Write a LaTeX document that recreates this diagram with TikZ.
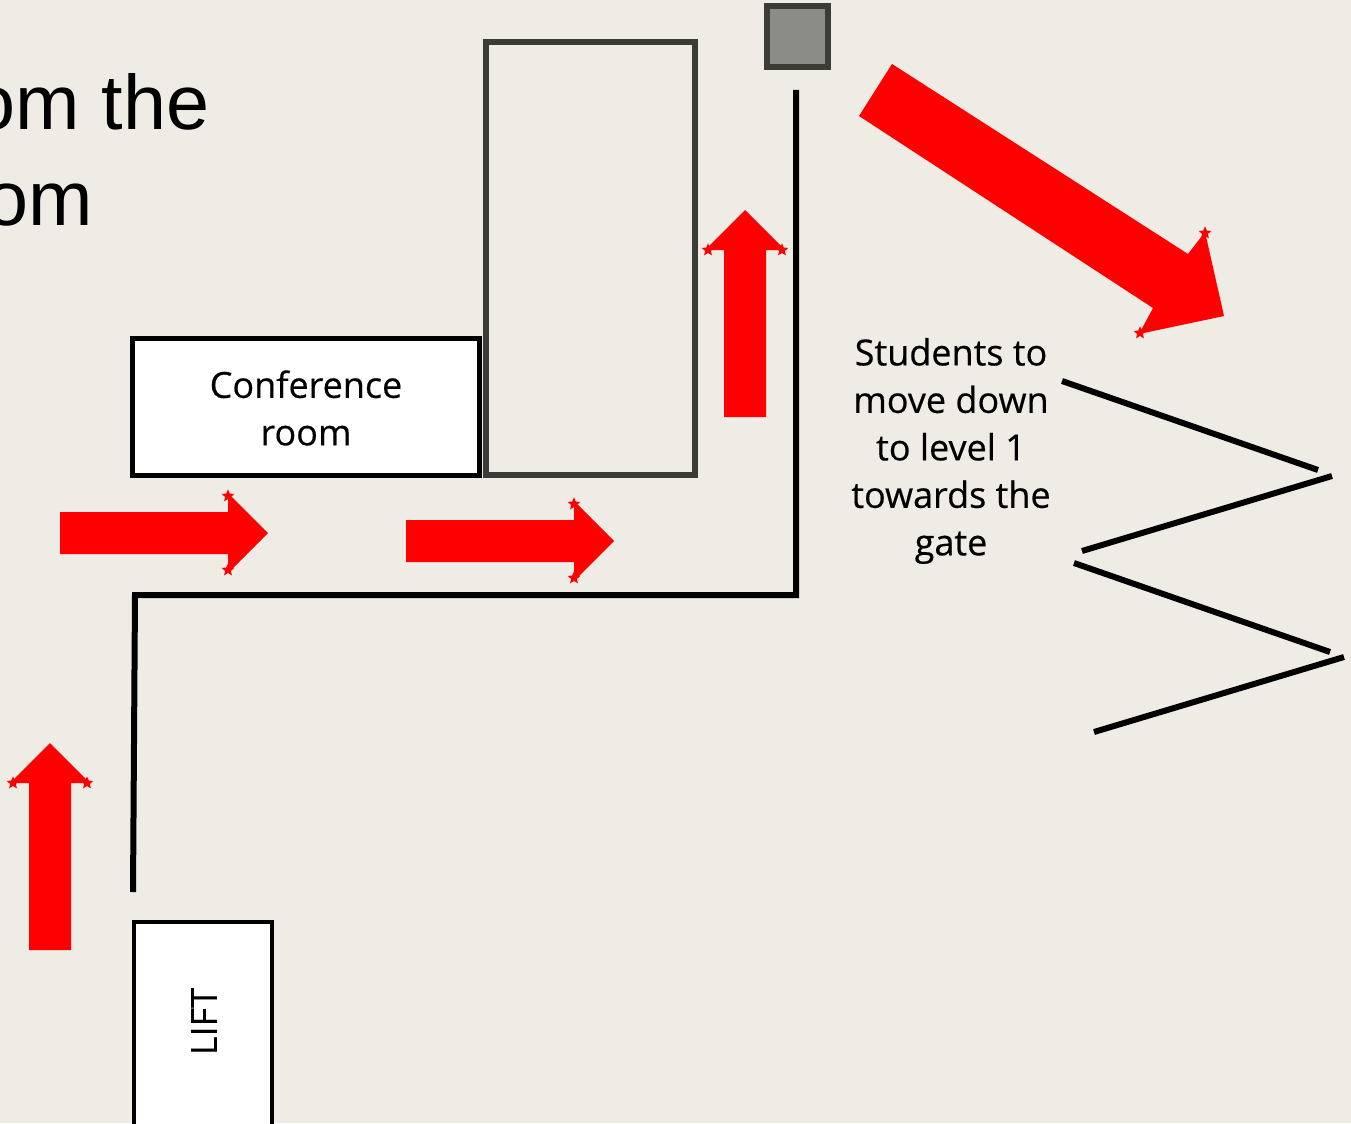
\documentclass[tikz,border=0pt]{standalone}
\usepackage{fontspec}
\setmainfont{Open Sans}
\newfontfamily\labelfont[RawFeature={embolden=0.4}]{Open Sans}
\newfontfamily\titlefont{Liberation Sans}
\usetikzlibrary{shapes.geometric}
\definecolor{paper}{HTML}{EEECE4}
\definecolor{slate}{HTML}{3B3C36}
\definecolor{stone}{HTML}{8B8C85}
\tikzset{
  x=0.75pt,y=-0.75pt,
  wall/.style={draw=black,line width=4.5pt,miter limit=10},
  blockarrow/.style={fill=red,draw=none},
  spike/.style={star,star points=5,star point ratio=2.2,fill=red,draw=none,inner sep=0pt,minimum size=10pt},
  boxed/.style={inner sep=0pt,outer sep=0pt,anchor=center},
  label/.style={align=center,text=black,font=\labelfont\fontsize{27pt}{35.6pt}\selectfont,inner sep=0pt},
  title/.style={anchor=base east,inner sep=0pt,text=black,font=\titlefont\fontsize{58pt}{58pt}\selectfont}
}
\newcommand{\rightarrowshape}[3]{% name, tail x, centre y
  \pgfmathsetmacro{\tx}{#2}\pgfmathsetmacro{\cy}{#3}
  \fill[blockarrow] (\tx,\cy-21) -- (\tx+168,\cy-21) -- (\tx+168,\cy-40) -- (\tx+208,\cy) -- (\tx+168,\cy+40) -- (\tx+168,\cy+21) -- (\tx,\cy+21) -- cycle;
  \node[spike] (#1a) at (\tx+168,\cy-37) {};
  \node[spike] (#1b) at (\tx+168,\cy+37) {};
}
\newcommand{\uparrowshape}[3]{% name, centre x, tail y
  \pgfmathsetmacro{\cx}{#2}\pgfmathsetmacro{\ty}{#3}
  \fill[blockarrow] (\cx-21,\ty) -- (\cx-21,\ty-167) -- (\cx-40,\ty-167) -- (\cx,\ty-207) -- (\cx+40,\ty-167) -- (\cx+21,\ty-167) -- (\cx+21,\ty) -- cycle;
  \node[spike] (#1a) at (\cx-37,\ty-167) {};
  \node[spike] (#1b) at (\cx+37,\ty-167) {};
}
\begin{document}
\begin{tikzpicture}
\useasboundingbox (0,0) rectangle (1351,1123);
\clip (0,0) rectangle (1351,1123);
\fill[paper] (0,0) rectangle (1351,1123);

\node[title] (titleA) at (209.5,130) {om the};
\node[title] (titleB) at (93,225) {om};

% rooms
\node[boxed,draw=slate,line width=3.9pt,minimum width=156.75pt,minimum height=324.75pt] (room) at (590.5,258.5) {};
\node[boxed,draw=slate,line width=4.5pt,fill=stone,minimum width=45.75pt,minimum height=45.75pt] (pillar) at (797.5,36.5) {};
\node[boxed,draw=black,fill=white,line width=3.75pt,minimum width=260.25pt,minimum height=102.75pt] (conf) at (306,407) {};
\node[label] (conflabel) at (306,408) {Conference\\room};
\node[boxed,draw=black,fill=white,line width=3.3pt,minimum width=103.5pt,minimum height=157.5pt] (lift) at (203,1027) {};
\node[label,rotate=90] (liftlabel) at (204,1021.5) {LIFT};

% walls
\coordinate (w1) at (796,90);
\coordinate (w2) at (796,595);
\coordinate (w3) at (135,595);
\coordinate (w4) at (133,892);
\draw[wall] (w1) -- (w2) -- (w3) -- (w4);

% zigzag stairs
\coordinate (z1) at (1062,381); \coordinate (z2) at (1318,470);
\coordinate (z3) at (1332,476); \coordinate (z4) at (1082,551);
\coordinate (z5) at (1074,563); \coordinate (z6) at (1330,652);
\coordinate (z7) at (1344,657); \coordinate (z8) at (1094,732);
\draw[wall] (z1) -- (z2);
\draw[wall] (z3) -- (z4);
\draw[wall] (z5) -- (z6);
\draw[wall] (z7) -- (z8);

\node[label] (students) at (951,451) {Students to\\move down\\to level 1\\towards the\\gate};

% arrows
\rightarrowshape{ra}{60}{533}
\rightarrowshape{rb}{406}{541}
\uparrowshape{ua}{50}{950}
\uparrowshape{ub}{745}{417}
\fill[blockarrow] (892,64) -- (1188,254) -- (1205,232) -- (1224,316) -- (1139,334) -- (1153,308) -- (859,116) -- cycle;
\node[spike] (bigA) at (1205,233) {};
\node[spike] (bigB) at (1140,333) {};
\end{tikzpicture}
\end{document}
